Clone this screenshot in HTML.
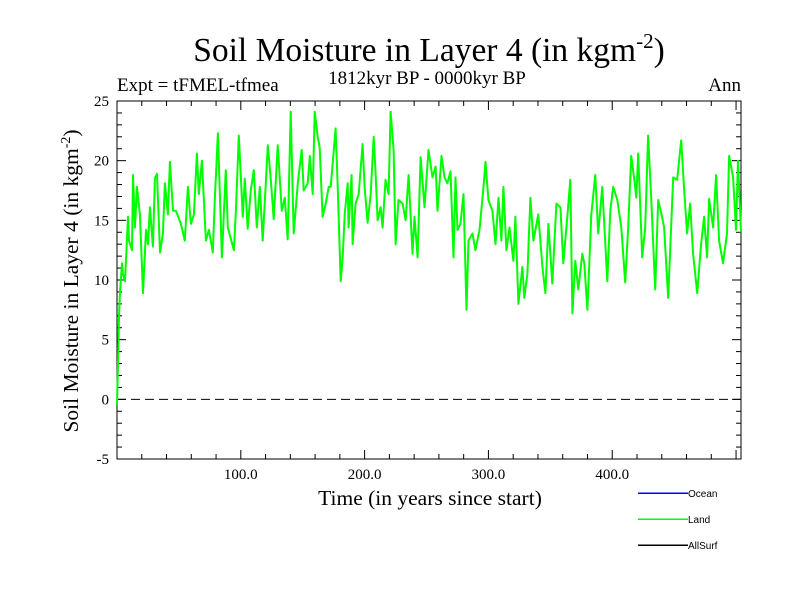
<!DOCTYPE html>
<html><head><meta charset="utf-8"><style>
body{margin:0;background:#fff}
svg{display:block}
.s{font-family:"Liberation Serif",serif;fill:#000}
.l{font-family:"Liberation Sans",sans-serif;font-size:10px;fill:#000}
</style></head><body>
<svg id="c" width="800" height="600" viewBox="0 0 800 600" xmlns="http://www.w3.org/2000/svg">
<text class="s" x="429" y="61" font-size="33.5" text-anchor="middle">Soil Moisture in Layer 4 (in kgm<tspan font-size="21" dy="-13">-2</tspan><tspan dy="13">)</tspan></text>
<text class="s" x="427" y="84" font-size="19" text-anchor="middle">1812kyr BP - 0000kyr BP</text>
<text class="s" x="117" y="91" font-size="19">Expt = tFMEL-tfmea</text>
<text class="s" x="741" y="91" font-size="19" text-anchor="end">Ann</text>
<text class="s" x="430" y="505" font-size="21.5" text-anchor="middle">Time (in years since start)</text>
<text class="s" transform="translate(78,281) rotate(-90)" font-size="21.5" text-anchor="middle">Soil Moisture in Layer 4 (in kgm<tspan font-size="14" dy="-8">-2</tspan><tspan dy="8">)</tspan></text>
<g id="axes"></g>
<g id="series"></g>
<g>
<rect x="638" y="492.5" width="50" height="1.5" fill="#0000ff"/>
<text class="l" x="688" y="497">Ocean</text>
<rect x="638" y="518.5" width="50" height="1.5" fill="#00ff00"/>
<text class="l" x="688" y="523">Land</text>
<rect x="638" y="544.5" width="50" height="1.5" fill="#000000"/>
<text class="l" x="688" y="549">AllSurf</text>
</g>
</svg>
<script>
const years=[0,0.8,1.6,2.4,4.0,4.8,6.5,8.9,9.7,12.1,12.9,14.5,16.1,18.5,21.0,23.4,25.0,26.6,29.0,30.6,32.3,34.7,37.1,38.7,41.1,42.7,45.2,47.6,51.6,54.8,57.3,59.7,62.1,64.5,66.1,68.6,71.8,74.2,77.4,79.0,81.5,84.7,87.9,89.5,94.4,96.0,98.4,101.6,103.2,105.6,108.1,110.5,112.9,115.3,117.7,120.2,121.8,124.2,126.6,129.8,133.1,135.5,137.9,140.3,142.7,146.0,149.2,150.8,154.0,155.7,158.1,159.7,162.1,163.7,166.1,168.6,171.0,172.6,174.2,176.6,178.2,180.7,182.3,183.9,186.3,187.1,189.5,190.3,192.7,195.2,198.4,200.0,202.4,204.9,207.3,208.9,210.5,212.9,214.5,216.9,219.4,221.0,223.4,225.0,227.4,230.7,233.1,235.5,238.7,240.3,242.8,245.2,248.4,251.6,254.8,257.3,258.9,262.1,264.5,266.9,269.4,271.8,273.4,275.0,277.4,279.9,282.3,283.9,287.1,289.5,292.8,296.0,297.6,300.0,303.2,305.7,308.1,310.5,312.1,314.5,317.0,320.2,321.8,324.2,327.4,329.0,331.5,333.9,336.3,340.3,343.6,346.0,348.4,351.6,354.9,358.1,360.5,363.7,366.1,367.8,370.2,372.6,375.8,377.4,379.9,383.1,386.3,388.7,392.0,396.0,398.4,400.8,404.1,407.3,410.5,412.9,415.3,417.8,419.4,421.0,424.2,426.6,429.0,431.5,434.7,437.1,440.3,441.9,445.2,449.2,452.4,455.7,458.1,460.5,462.9,465.3,468.6,471.8,474.2,476.6,478.2,481.5,483.9,486.3,489.5,492.7,494.4,497.6,500.0,501.6,504.0];
const landValues=[-0.5,3,6.9,9,11.4,10.5,9.9,15.3,13.3,12.5,18.8,14.4,17.8,15.5,8.9,14.2,13.0,16.1,12.8,18.5,18.9,12.3,13.9,18.1,15.5,19.9,15.8,15.8,14.7,13.3,17.8,14.7,15.5,20.6,17.2,20.0,13.3,14.2,12.3,16.7,22.3,11.9,19.2,14.4,12.5,15.8,22.1,15.3,18.5,14.3,17.5,19.2,14.4,17.8,13.3,18.1,21.3,18.4,15.1,21.3,15.8,16.9,13.4,24.1,13.9,18.1,20.9,17.5,18.1,20.4,17.2,24.1,22.0,21.1,15.3,16.4,17.8,17.8,19.8,22.7,18.1,9.9,11.9,15.5,18.1,14.4,18.8,13.0,16.4,17.2,21.4,17.8,14.8,17.2,22.0,18.9,15.0,16.1,14.4,18.4,17.2,24.1,20.9,13.0,16.7,16.4,15.0,18.8,12.2,15.3,11.9,20.3,16.1,20.9,18.6,19.5,15.8,20.4,18.6,18.1,19.1,11.9,18.6,14.2,14.7,17.2,7.5,13.3,13.9,12.5,14.2,17.8,19.9,16.7,15.8,13.0,16.9,13.3,17.8,12.5,14.4,11.6,15.3,8.0,11.1,8.5,10.5,16.9,13.3,15.5,11.1,8.9,14.7,9.7,16.4,16.1,11.4,15.3,18.4,7.2,11.6,9.2,12.2,11.4,7.5,15.5,18.8,13.9,17.8,9.9,15.8,17.8,16.7,14.4,9.8,14.4,20.4,18.4,16.9,20.6,11.9,14.4,22.1,16.9,9.2,16.7,15.3,14.4,8.5,18.6,18.4,21.7,17.5,13.9,16.4,12.2,8.9,13.0,15.3,11.9,16.8,14.4,18.8,13.3,11.4,13.9,20.4,18.6,14.2,20.0,14.0];
const xTickValues=[100,200,300,400];
const xTickLabels=["100.0","200.0","300.0","400.0"];
const yTickValues=[-5,0,5,10,15,20,25];
const yTickLabels=["-5","0","5","10","15","20","25"];
const X0=117,X1=741,Y0=101,Y1=459,XMAX=504,YMIN=-5,YMAX=25;
const sx=v=>X0+(v/XMAX)*(X1-X0);
const sy=v=>Y1-(v-YMIN)/(YMAX-YMIN)*(Y1-Y0);
const NS="http://www.w3.org/2000/svg";
const ax=document.getElementById('axes');
function mk(t,a,p){const e=document.createElementNS(NS,t);for(const k in a)e.setAttribute(k,a[k]);p.appendChild(e);return e;}
const frame=mk('rect',{x:X0,y:Y0,width:X1-X0,height:Y1-Y0,fill:'none',stroke:'#000','stroke-width':1},ax);


for(let v=20;v<XMAX;v+=20){const x=sx(v),L=(v%100===0)?9:5;
 mk('line',{x1:x,y1:Y1,x2:x,y2:Y1-L,stroke:'#000'},ax);mk('line',{x1:x,y1:Y0,x2:x,y2:Y0+L,stroke:'#000'},ax);}
for(let v=YMIN+1;v<YMAX;v++){const y=sy(v),L=(v%5===0)?9:5;
 mk('line',{x1:X0,y1:y,x2:X0+L,y2:y,stroke:'#000'},ax);mk('line',{x1:X1,y1:y,x2:X1-L,y2:y,stroke:'#000'},ax);}
xTickValues.forEach((v,i)=>{const t=mk('text',{x:sx(v),y:Y1+20,'text-anchor':'middle','font-size':15,class:'s'},ax);t.textContent=xTickLabels[i];
 
 });
yTickValues.forEach((v,i)=>{const t=mk('text',{x:X0-8,y:sy(v)+5,'text-anchor':'end','font-size':15,class:'s'},ax);t.textContent=yTickLabels[i];
 
 });
const z=mk('line',{x1:X0,y1:sy(0),x2:X1,y2:sy(0),stroke:'#000','stroke-dasharray':'9,5'},ax);


const pts=years.map((y,i)=>sx(y).toFixed(1)+','+sy(landValues[i]).toFixed(1)).join(' ');
const pl=mk('polyline',{points:pts,fill:'none',stroke:'#00ff00','stroke-width':2,'stroke-linejoin':'round'},document.getElementById('series'));


</script>
</body></html>
